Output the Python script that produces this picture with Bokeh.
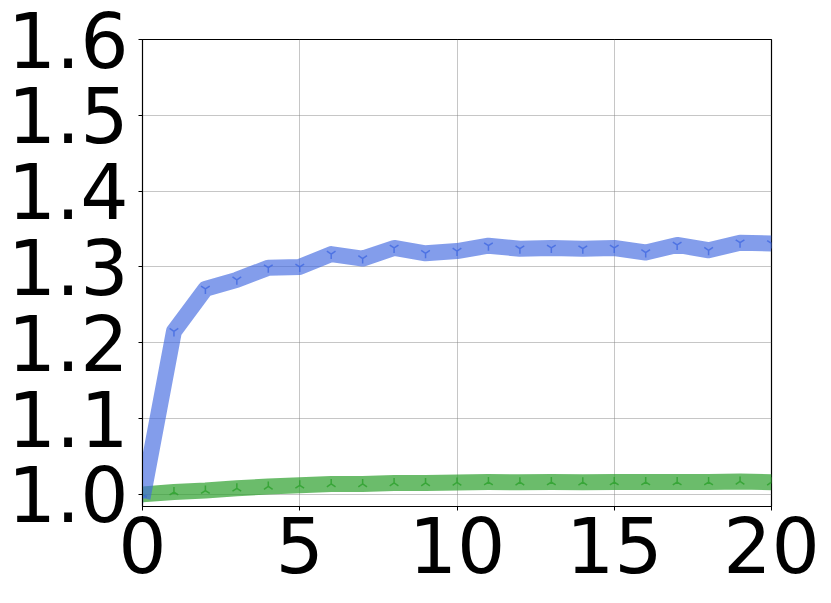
import numpy as np
from bokeh.plotting import figure
from bokeh.models import FixedTicker, PrintfTickFormatter, Range1d
from bokeh.embed import file_html
from bokeh.resources import INLINE

steps = list(range(21))
blue_values = [0.995, 1.215, 1.271, 1.283, 1.299, 1.300, 1.317, 1.311, 1.325, 1.318, 1.321,
               1.328, 1.324, 1.325, 1.324, 1.325, 1.319, 1.329, 1.322, 1.332, 1.331]
green_values = [1.000, 1.003, 1.005, 1.008, 1.0105, 1.012, 1.0137, 1.0137, 1.015, 1.015, 1.0158,
                1.0163, 1.016, 1.0163, 1.016, 1.0163, 1.0163, 1.0163, 1.0163, 1.017, 1.016]
x_ticks = [0, 5, 10, 15, 20]
y_ticks = [1.0, 1.1, 1.2, 1.3, 1.4, 1.5, 1.6]

p = figure(width=823, height=595, output_backend="svg", toolbar_location=None,
           x_range=Range1d(0, 20), y_range=Range1d(0.984, 1.6),
           min_border_left=142, min_border_top=39, min_border_right=52, min_border_bottom=89)

p.outline_line_color = "black"
p.outline_line_width = 1.2
p.outline_line_alpha = 1

for ax in (p.xaxis[0], p.yaxis[0]):
    ax.major_label_text_font = "DejaVu Sans"
    ax.major_label_text_font_size = "76px"
    ax.major_label_text_color = "black"
    ax.axis_line_color = "black"
    ax.major_tick_line_color = "black"
    ax.major_tick_out = 4
    ax.major_tick_in = 0
    ax.minor_tick_line_color = None

p.xaxis.ticker = FixedTicker(ticks=x_ticks)
p.yaxis.ticker = FixedTicker(ticks=y_ticks)
p.yaxis.formatter = PrintfTickFormatter(format="%.1f")
p.xaxis.major_label_standoff = 6
p.yaxis.major_label_standoff = 10

p.xgrid.ticker = FixedTicker(ticks=x_ticks)
p.ygrid.ticker = FixedTicker(ticks=y_ticks)
p.grid.grid_line_color = "gray"
p.grid.grid_line_alpha = 0.45
p.grid.grid_line_width = 1

green = "#2ca02c"
blue = "royalblue"

p.line(steps, green_values, line_color=green, line_width=16, line_alpha=0.7, line_join="round")
p.scatter(steps, green_values, marker="y", angle=np.pi, size=10, line_color=green,
          line_alpha=0.8, line_width=1.5)
p.line(steps, blue_values, line_color=blue, line_width=16, line_alpha=0.65, line_join="round")
p.scatter(steps, blue_values, marker="y", size=10, line_color=blue, line_alpha=0.8, line_width=1.5)

open("out.html", "w").write(file_html(p, INLINE))
